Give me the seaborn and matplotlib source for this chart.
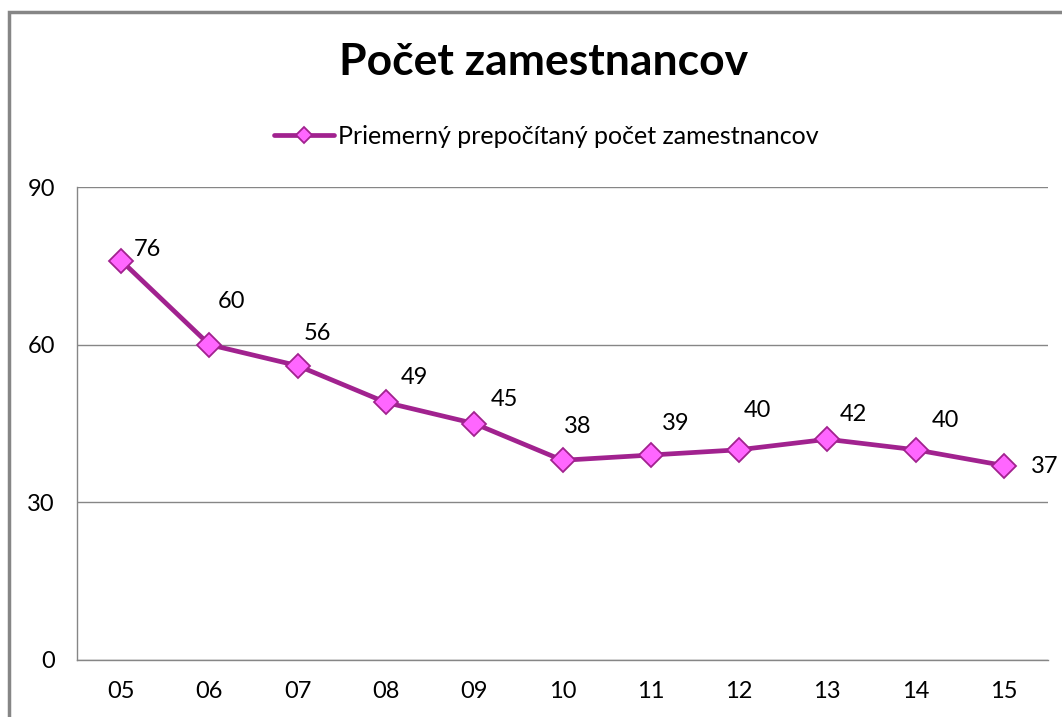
import pandas as pd
import matplotlib.pyplot as plt
import seaborn as sns
from matplotlib.patches import Rectangle

# data
years = ['05', '06', '07', '08', '09', '10', '11', '12', '13', '14', '15']
employees = [76, 60, 56, 49, 45, 38, 39, 40, 42, 40, 37]
series_name = 'Priemerný prepočítaný počet zamestnancov'

# label offsets (pixels) relative to each point, as in the original
label_dx = [26, 22, 20, 28, 30, 15, 25, 18, 26, 30, 41]
label_dy = [11, 43, 32, 25, 24, 34, 32, 39, 25, 29, -1]

df = pd.DataFrame({'rok': years, 'pocet': employees})

sns.set_style('white')
plt.rcParams['font.family'] = ['Lato', 'DejaVu Sans']
plt.rcParams['text.color'] = 'black'
plt.rcParams['xtick.labelcolor'] = 'black'
plt.rcParams['ytick.labelcolor'] = 'black'

line_col = '#A1228F'
face_col = '#FF66FF'
grid_col = '#868686'

fig = plt.figure(figsize=(10.62, 7.17), dpi=100)
ax = fig.add_axes([77 / 1062, 1 - 660 / 717, (1048 - 77) / 1062, (660 - 187) / 717])

sns.lineplot(data=df, x='rok', y='pocet', ax=ax, color=line_col, linewidth=3.4,
             marker='D', markersize=12, markerfacecolor=face_col,
             markeredgecolor=line_col, markeredgewidth=1.3, label=series_name,
             legend=False)

for i, v in enumerate(employees):
    ax.annotate(str(v), (i, v), xytext=(label_dx[i], label_dy[i]),
                textcoords='offset pixels', ha='center', va='center',
                fontsize=17, color='black', annotation_clip=False)

ax.set_xlim(-0.5, len(years) - 0.5)
ax.set_ylim(0, 90)
ax.set_yticks([0, 30, 60, 90])
ax.yaxis.grid(True, color=grid_col, linewidth=1)
ax.set_axisbelow(True)
ax.set_xlabel('')
ax.set_ylabel('')

ax.set_xticks(range(len(years)))
ax.set_xticklabels(years)
ax.set_xticks([i - 0.5 for i in range(len(years) + 1)], minor=True)
ax.tick_params(axis='x', which='major', length=0, labelsize=17, pad=15)
ax.tick_params(axis='x', which='minor', length=5, color=grid_col, width=1, direction='out')
ax.tick_params(axis='y', length=5, color=grid_col, width=1, labelsize=17, pad=11, direction='out')

for s in ['top', 'right']:
    ax.spines[s].set_visible(False)
for s in ['left', 'bottom']:
    ax.spines[s].set_color(grid_col)
    ax.spines[s].set_linewidth(1)

fig.text(544 / 1062, 1 - 62 / 717, 'Počet zamestnancov', ha='center', va='center',
         fontsize=32, fontweight='bold', color='black')

handles, labels = ax.get_legend_handles_labels()
fig.legend(handles, labels, loc='center', bbox_to_anchor=(546 / 1062, 1 - 136 / 717),
           frameon=False, fontsize=18, handlelength=2.4, handletextpad=0.15,
           markerscale=0.7)

fig.patches.append(Rectangle((9 / 1062, -0.1), 1.2, 1 - 12 / 717 + 0.1,
                             transform=fig.transFigure, fill=False,
                             edgecolor=grid_col, linewidth=2.5))

fig.savefig('out.png', dpi=100)
